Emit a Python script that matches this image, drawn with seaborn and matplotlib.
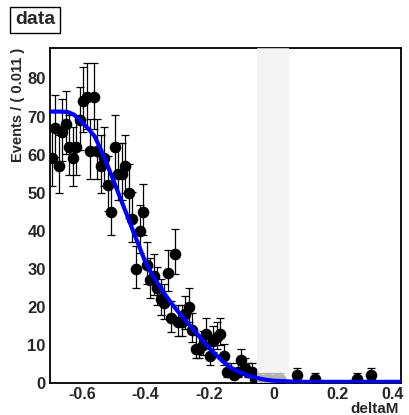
import numpy as np
import matplotlib
matplotlib.use("Agg")
import matplotlib.pyplot as plt
import seaborn as sns
import pandas as pd
from matplotlib.ticker import MultipleLocator
from matplotlib.transforms import ScaledTranslation

# ---- data ----
bin_width = 0.011
x_min, x_max = -0.70, 0.40
bin_index = list(range(0, 59)) + [59, 61, 62, 64, 65, 70, 75, 87, 91]
counts = [59, 67, 57, 66, 68, 62, 59, 62, 69, 74,
          75, 61, 75, 61, 57, 59, 52, 45, 62, 55,
          55, 57, 50, 43, 30, 40, 45, 31, 27, 28,
          25, 22, 21, 29, 17, 34, 16, 16, 18, 20,
          14, 9, 9, 10, 13, 7, 11, 12, 13, 7,
          3, 3, 2, 3, 6, 4, 3, 3, 1,
          1, 1, 1, 1, 1, 2, 1, 1, 2]

curve_x = [-0.70, -0.67, -0.645, -0.625, -0.60, -0.58, -0.56, -0.54, -0.52, -0.50,
           -0.48, -0.46, -0.44, -0.42, -0.40, -0.38, -0.36, -0.34, -0.32, -0.30,
           -0.28, -0.26, -0.24, -0.22, -0.20, -0.18, -0.16, -0.14, -0.12, -0.10,
           -0.08, -0.06, -0.04, -0.02, 0.00, 0.05, 0.10, 0.40]
curve_y = [71.3, 71.3, 71.2, 70.5, 68.5, 66.8, 64.8, 61.2, 57.2, 53.0,
           48.6, 44.4, 40.0, 35.8, 31.5, 28.5, 25.8, 23.3, 21.0, 18.9,
           16.9, 14.9, 13.0, 11.0, 9.1, 7.4, 5.8, 4.4, 3.4, 2.6,
           2.0, 1.5, 1.1, 0.8, 0.6, 0.4, 0.3, 0.3]

band_lo, band_hi = -0.05, 0.05
y_max = 88
x_ticks = [-0.6, -0.4, -0.2, 0.0, 0.2, 0.4]
x_tick_labels = ["-0.6", "-0.4", "-0.2", "0", "0.2", "0.4"]

# ---- derived ----
n = np.array(counts, dtype=float)
xc = x_min + bin_width * (np.array(bin_index) + 0.5)
err_up = 0.5 + np.sqrt(n + 0.25)
err_dn = -0.5 + np.sqrt(n + 0.25)
df = pd.DataFrame({"deltaM": xc, "events": n})
cf = pd.DataFrame({"deltaM": curve_x, "pdf": curve_y})

sns.set_style("white")
plt.rcParams['font.family'] = ['Liberation Sans', 'DejaVu Sans']

fig = plt.figure(figsize=(4.09, 4.15), dpi=100)
ax = fig.add_axes([50 / 409, 32 / 415, 351 / 409, 335 / 415])

ax.errorbar(xc, n, yerr=[err_dn, err_up], fmt='none', ecolor='black',
            elinewidth=0.9, capsize=2.6, capthick=0.9, zorder=2)
sns.scatterplot(data=df, x="deltaM", y="events", ax=ax, color='black',
                s=70, edgecolor='black', linewidth=0, zorder=2.2, legend=False)

ax.axvspan(band_lo, band_hi, facecolor='#f1f1f1', alpha=0.75, edgecolor='none',
           zorder=3)

sns.lineplot(data=cf, x="deltaM", y="pdf", ax=ax, color='#0000ff',
             linewidth=3.0, zorder=4, legend=False)

ax.set_xlim(x_min, x_max)
ax.set_ylim(0, y_max)

ax.xaxis.set_minor_locator(MultipleLocator(0.05))
ax.yaxis.set_major_locator(MultipleLocator(10))
ax.yaxis.set_minor_locator(MultipleLocator(2))
ax.tick_params(axis='both', which='both', direction='in', top=False, right=False,
               color='black')
ax.tick_params(axis='both', which='major', length=10, width=1.2)
ax.tick_params(axis='both', which='minor', length=5, width=1.0)
ax.tick_params(axis='x', which='major', pad=3)
ax.tick_params(axis='y', which='major', pad=3)

ax.set_xticks(x_ticks)
ax.set_xticklabels(x_tick_labels, fontsize=11.5, fontweight='bold')
last = ax.get_xticklabels()[-1]
last.set_horizontalalignment('right')
last.set_transform(last.get_transform() + ScaledTranslation(2 / 72, 0, fig.dpi_scale_trans))
for lab in ax.get_yticklabels():
    lab.set_fontsize(12)
    lab.set_fontweight('bold')

for s in ax.spines.values():
    s.set_color('black')
    s.set_linewidth(1.3)

ax.set_xlabel("")
ax.set_ylabel("Events / ( 0.011 )", fontsize=10.5, fontweight='bold', loc='top',
              labelpad=2)
fig.text(399 / 409, 1 - 409 / 415, "deltaM", fontsize=11, fontweight='bold',
         ha='right', va='center')

fig.text(15 / 409, 1 - 20 / 415, "data", fontsize=14, fontweight='bold',
         va='center', ha='left',
         bbox=dict(boxstyle='square,pad=0.25', facecolor='white',
                   edgecolor='black', linewidth=1.0))

fig.savefig("out.png", dpi=100)
